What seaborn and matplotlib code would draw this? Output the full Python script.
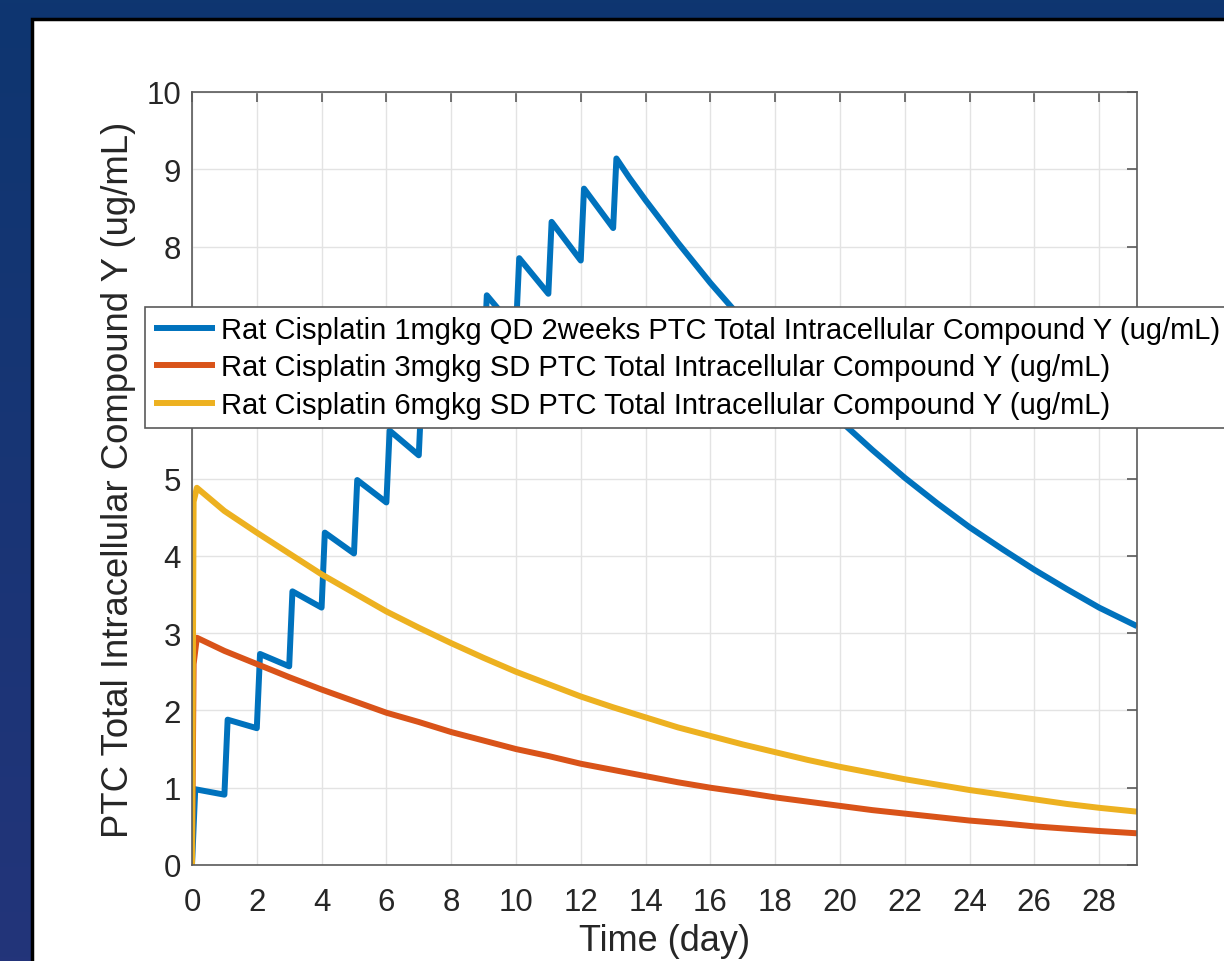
import numpy as np
import pandas as pd
import matplotlib
matplotlib.use("Agg")
import matplotlib.pyplot as plt
import matplotlib.patches as mpatches
import seaborn as sns

# ---------------- data ----------------
blue_label = "Rat Cisplatin 1mgkg QD 2weeks PTC Total Intracellular Compound Y (ug/mL)"
orange_label = "Rat Cisplatin 3mgkg SD PTC Total Intracellular Compound Y (ug/mL)"
yellow_label = "Rat Cisplatin 6mgkg SD PTC Total Intracellular Compound Y (ug/mL)"

blue_days = [0.0, 0.1, 1.0, 1.1, 2.0, 2.1, 3.0, 3.1, 4.0, 4.1, 5.0, 5.1, 6.0, 6.1,
             7.0, 7.1, 8.0, 8.1, 9.0, 9.1, 10.0, 10.1, 11.0, 11.1, 12.0, 12.1, 13.0, 13.1,
             13.5, 14, 15, 16, 17, 18, 19, 20, 21, 22, 23, 24, 25, 26, 27, 28, 29.17]
blue_values = [0.0, 0.98, 0.91, 1.88, 1.77, 2.73, 2.57, 3.54, 3.33, 4.30, 4.03, 4.98, 4.69, 5.62,
               5.30, 6.22, 5.87, 6.80, 6.42, 7.37, 6.92, 7.85, 7.39, 8.32, 7.82, 8.75, 8.24, 9.14,
               8.89, 8.60, 8.05, 7.53, 7.05, 6.60, 6.17, 5.75, 5.37, 5.01, 4.68, 4.37, 4.09, 3.82,
               3.57, 3.33, 3.09]

orange_days = [0.0, 0.05, 0.15, 1, 2, 3, 4, 5, 6, 7, 8, 9, 10, 11, 12, 13, 14, 15, 16,
               17, 18, 19, 20, 21, 22, 23, 24, 25, 26, 27, 28, 29.17]
orange_values = [0.0, 2.6, 2.94, 2.77, 2.60, 2.43, 2.27, 2.12, 1.97, 1.85, 1.72, 1.61, 1.50,
                 1.41, 1.31, 1.23, 1.15, 1.07, 1.00, 0.94, 0.875, 0.82, 0.765, 0.71, 0.665,
                 0.62, 0.575, 0.54, 0.50, 0.47, 0.44, 0.41]

yellow_days = [0.0, 0.05, 0.15, 1, 2, 3, 4, 5, 6, 7, 8, 9, 10, 11, 12, 13, 14, 15, 16,
               17, 18, 19, 20, 21, 22, 23, 24, 25, 26, 27, 28, 29.17]
yellow_values = [0.0, 4.7, 4.88, 4.58, 4.30, 4.03, 3.76, 3.52, 3.28, 3.07, 2.87, 2.68, 2.50,
                 2.34, 2.18, 2.04, 1.91, 1.78, 1.67, 1.56, 1.46, 1.36, 1.27, 1.19, 1.11,
                 1.04, 0.97, 0.91, 0.85, 0.79, 0.74, 0.69]

x_ticks = list(range(0, 29, 2))
y_ticks = list(range(0, 11))

# ---------------- styling ----------------
sns.set_theme(style="white")
plt.rcParams['font.family'] = ['Liberation Sans', 'DejaVu Sans']

fig = plt.figure(figsize=(12.24, 9.62), dpi=100)

# background gradient frame
bg = fig.add_axes([0, 0, 1, 1], zorder=-10)
top_c = np.array([14, 54, 112]) / 255.0
bot_c = np.array([35, 52, 122]) / 255.0
t = np.linspace(0, 1, 256)[:, None]
grad = top_c[None, :] * (1 - t) + bot_c[None, :] * t
bg.imshow(grad[:, None, :], aspect='auto', extent=[0, 1, 0, 1], origin='upper')
bg.set_axis_off()
# white slide panel with black border
W, H = 1224.0, 962.0
panel = mpatches.Rectangle((32 / W, -0.01), 1.05, (962 - 20) / H + 0.01,
                           transform=fig.transFigure, facecolor='white',
                           edgecolor='black', linewidth=2.5, zorder=-5)
fig.patches.append(panel)

ax = fig.add_axes([192 / W, 96 / H, 945 / W, 773 / H])
ax.set_facecolor('white')

colors = ['#0072BD', '#D95319', '#EDB120']
series = [(blue_days, blue_values, blue_label),
          (orange_days, orange_values, orange_label),
          (yellow_days, yellow_values, yellow_label)]
for (d, v, lab), c in zip(series, colors):
    df = pd.DataFrame({'day': d, 'value': v})
    sns.lineplot(data=df, x='day', y='value', ax=ax, color=c, linewidth=4.3,
                 label=lab, sort=False, estimator=None)
for ln in ax.get_lines():
    ln.set_solid_joinstyle('round')
    ln.set_solid_capstyle('butt')

ax.set_xlim(0, 29.17)
ax.set_ylim(0, 10)
ax.set_xticks(x_ticks)
ax.set_yticks(y_ticks)
ax.grid(True, color='#e3e3e3', linewidth=1.0)
ax.set_axisbelow(True)
for s in ax.spines.values():
    s.set_visible(True)
    s.set_color('#5a5a5a')
    s.set_linewidth(1.2)
ax.tick_params(axis='both', which='both', direction='in', length=7, width=1.2,
               color='#5a5a5a', top=True, right=True, labelsize=22.5,
               labelcolor='#262626')
ax.tick_params(axis='y', pad=8)
ax.tick_params(axis='x', pad=16)
ax.set_xlabel('Time (day)', fontsize=26, color='#262626', labelpad=4)
ax.set_ylabel('PTC Total Intracellular Compound Y (ug/mL)', fontsize=26.3,
              color='#262626', labelpad=7)

leg = ax.legend(loc='upper left', bbox_to_anchor=(-47 / 945, (866 - 308) / 773),
                fontsize=21, frameon=True, fancybox=False, framealpha=1,
                handlelength=2.1, handletextpad=0.2, labelspacing=0.33,
                borderpad=0.3, borderaxespad=0)
leg.get_frame().set_edgecolor('#5a5a5a')
leg.get_frame().set_linewidth(1.2)
for t_ in leg.get_texts():
    t_.set_color('black')
leg.set_zorder(10)

fig.savefig('out.png', dpi=100)
